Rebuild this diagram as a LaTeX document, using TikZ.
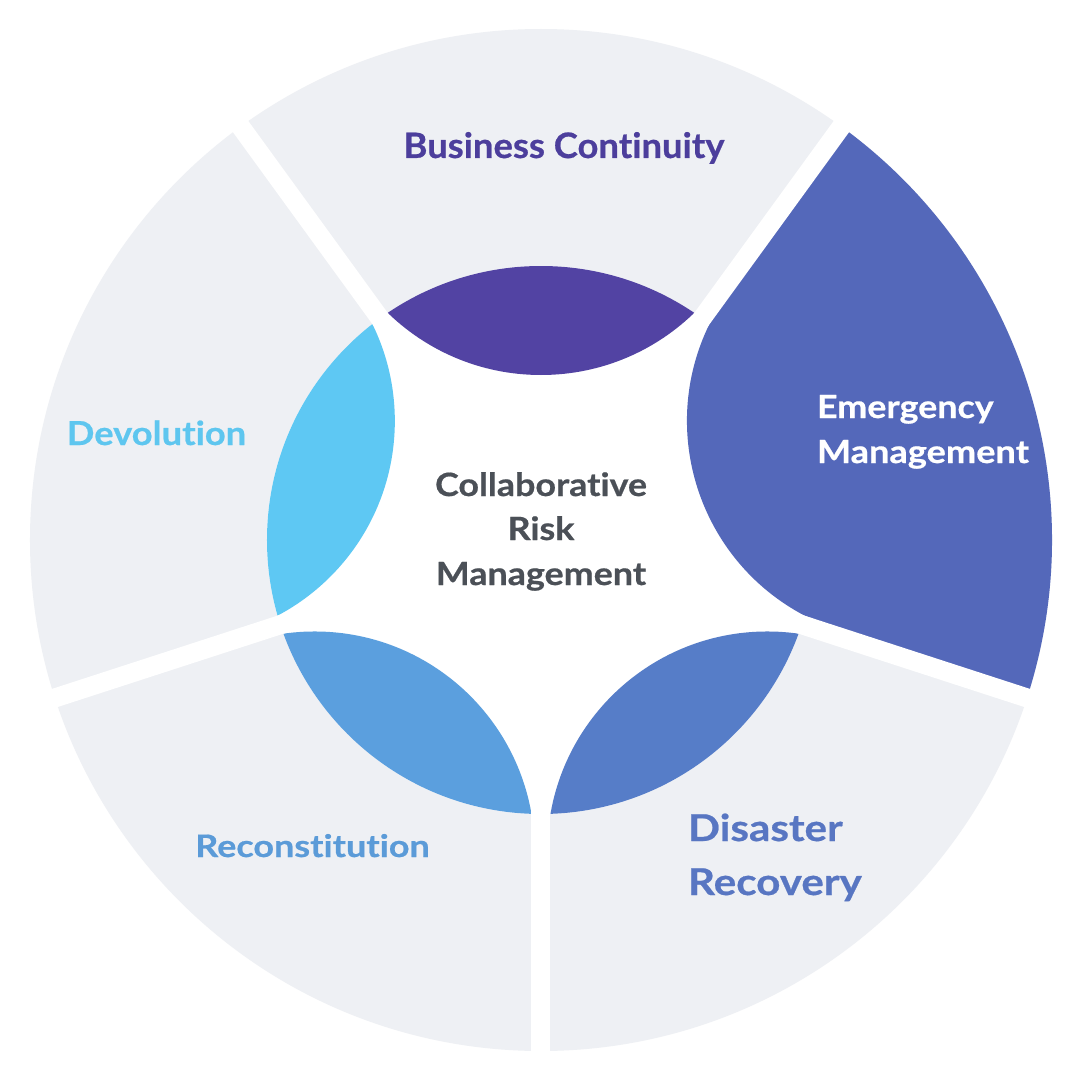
\documentclass[tikz,border=0pt]{standalone}
\usepackage{fontspec}
\setmainfont{Lato}[Ligatures=NoCommon]
\definecolor{segGray}{HTML}{EEF0F4}
\definecolor{lensPurple}{HTML}{5243A3}
\definecolor{bcText}{HTML}{4C3E9C}
\definecolor{emBlue}{HTML}{5468BA}
\definecolor{lensDev}{HTML}{5EC8F3}
\definecolor{devText}{HTML}{5EC6EF}
\definecolor{lensRec}{HTML}{5B9FDE}
\definecolor{recText}{HTML}{5B9BD8}
\definecolor{lensDis}{HTML}{567DC8}
\definecolor{disText}{HTML}{5876C2}
\definecolor{crmText}{HTML}{4B5057}
\newcommand\lblfont[2]{\fontsize{#1}{#1}\selectfont\bfseries\addfontfeatures{FakeStretch=#2,FakeBold=0.6}}
\begin{document}
\begin{tikzpicture}[x=1pt,y=1pt,
  gapline/.style={white,line width=19pt},
  lbl/.style={inner sep=0pt,outer sep=0pt}]
\def\Rout{511}
\def\Rin{274}
\def\Dl{385}
\def\Rl{220}
\useasboundingbox (-541,-540) rectangle (539,540);
\fill[white] (-541,-540) rectangle (539,540);
% outer ring
\fill[segGray] (0,0) circle (\Rout);
\fill[white] (0,0) circle (\Rin);
% lenses
\begin{scope}
  \clip (0,0) circle (\Rin);
  \fill[lensPurple] (90:\Dl) circle (\Rl);
  \fill[lensDis] (-54:\Dl) circle (\Rl);
  \fill[lensRec] (234:\Dl) circle (\Rl);
  \fill[lensDev] (162:\Dl) circle (\Rl);
\end{scope}
% emergency segment (sector joined with its lens)
\fill[emBlue] (52.05:\Rin) arc[start angle=153.85,end angle=242.15,radius=\Rl]
  -- (-18:\Rout) arc[start angle=-18,end angle=54,radius=\Rout] -- cycle;
% gaps
\foreach \a in {54,126,198,270,342} \draw[gapline] (0,0) -- (\a:545);
% labels
\node[lbl,anchor=base,text=bcText,font=\lblfont{35}{1.04}] (bc) at (23,382) {Business Continuity};
\node[lbl,anchor=base,text=devText,font=\lblfont{33}{1.1}] (dev) at (-384.5,95) {Devolution};
\node[lbl,anchor=base,text=recText,font=\lblfont{31}{1.16}] (rec) at (-228.5,-317) {Reconstitution};
\node[lbl,anchor=base west,text=white,font=\lblfont{32}{1.12}] (em1) at (276,122) {Emergency};
\node[lbl,anchor=base west,text=white,font=\lblfont{32}{1.13}] (em2) at (276,77) {Management};
\node[lbl,anchor=base west,text=disText,font=\lblfont{37}{1.14}] (dr1) at (147,-301) {Disaster};
\node[lbl,anchor=base west,text=disText,font=\lblfont{37}{1.14}] (dr2) at (147,-355) {Recovery};
\node[lbl,anchor=base,text=crmText,font=\lblfont{32}{1.12}] (crm1) at (0,44) {Collaborative};
\node[lbl,anchor=base,text=crmText,font=\lblfont{32}{1.12}] (crm2) at (0,0) {Risk};
\node[lbl,anchor=base,text=crmText,font=\lblfont{32}{1.12}] (crm3) at (0,-45) {Management};
\end{tikzpicture}
\end{document}
